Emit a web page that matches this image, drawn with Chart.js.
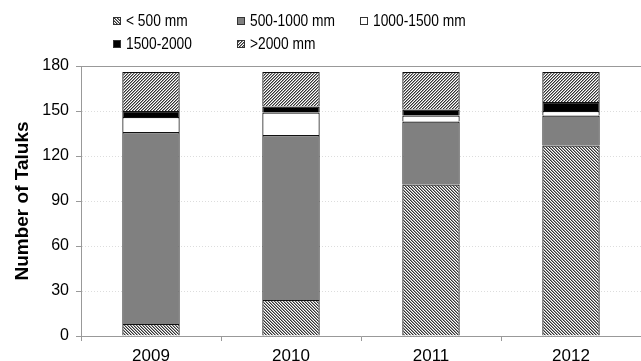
<!DOCTYPE html>
<html lang="en">
<head>
    <meta charset="UTF-8">
    <title>Number of Taluks by rainfall class</title>
    <script src="https://cdn.jsdelivr.net/npm/chart.js"></script>
    <style>
        body { margin: 0; background: #fff; }
        #wrap { position: relative; width: 641px; height: 361px; }
        #legend { position: absolute; left: 0; top: 0; width: 641px; height: 60px;
                  font-family: "Liberation Sans", Arial, sans-serif; font-size: 17px; color: #000; }
        .item { position: absolute; display: flex; align-items: center; white-space: nowrap; }
        .item canvas { width: 8px; height: 8px; margin-right: 5px; }
        .item span { display: inline-block; transform: scaleX(0.81); transform-origin: left center; }
    </style>
</head>
<body>
<div id="wrap">
    <canvas id="myChart" width="641" height="361"></canvas>
    <div id="legend"></div>
</div>
<script>
const years = ['2009', '2010', '2011', '2012'];
const seriesNames = ['< 500 mm', '500-1000 mm', '1000-1500 mm', '1500-2000', '>2000 mm'];
const below500 = [8, 24, 101, 127];
const r500to1000 = [128, 110, 42, 20];
const r1000to1500 = [10, 15, 4, 3];
const r1500to2000 = [4, 4, 4, 6];
const above2000 = [26, 23, 25, 20];
const yTicks = [0, 30, 60, 90, 120, 150, 180];

// small hatch tiles, 3px period; dir 1 = "\\\\", dir -1 = "////"
function hatch(dir) {
    const c = document.createElement('canvas');
    c.width = 3; c.height = 3;
    const g = c.getContext('2d');
    g.fillStyle = '#fff';
    g.fillRect(0, 0, 3, 3);
    for (let i = 0; i < 3; i++) {
        const x = dir > 0 ? i : 2 - i;
        g.fillStyle = '#333';
        g.fillRect(x, i, 1, 1);
        g.fillStyle = '#999';
        g.fillRect((x + 1) % 3, i, 1, 1);
    }
    return c;
}

const ctx = document.getElementById('myChart').getContext('2d');
const fills = [
    ctx.createPattern(hatch(1), 'repeat'),
    '#808080',
    '#ffffff',
    '#000000',
    ctx.createPattern(hatch(-1), 'repeat')
];
const values = [below500, r500to1000, r1000to1500, r1500to2000, above2000];

const topLine = {
    id: 'topLine',
    afterDraw(chart) {
        const a = chart.chartArea, c = chart.ctx;
        c.save();
        c.strokeStyle = '#999';
        c.lineWidth = 1;
        c.beginPath();
        c.moveTo(a.left, a.top + 0.5);
        c.lineTo(a.right, a.top + 0.5);
        c.stroke();
        c.restore();
    }
};

const chart = new Chart(ctx, {
    type: 'bar',
    data: {
        labels: years,
        datasets: seriesNames.map((name, i) => ({
            label: name,
            data: values[i],
            backgroundColor: fills[i],
            borderColor: '#111',
            borderWidth: 1.2,
            barPercentage: 0.41,
            categoryPercentage: 1
        }))
    },
    options: {
        responsive: false,
        animation: false,
        layout: { padding: { top: 66, right: 0, left: 0, bottom: 0 } },
        plugins: { legend: { display: false }, tooltip: { enabled: false } },
        scales: {
            x: {
                stacked: true,
                grid: { drawOnChartArea: false, tickLength: 5, color: '#999', offset: true },
                border: { color: '#999' },
                ticks: { color: '#000', padding: 5, font: { family: 'Liberation Sans', size: 17 } },
                afterFit(s) { s.height = 25; }
            },
            y: {
                stacked: true,
                min: 0,
                max: 180,
                afterBuildTicks(s) { s.ticks = yTicks.map(v => ({ value: v })); },
                grid: { color: '#ddd', tickColor: '#999', tickLength: 5 },
                border: { color: '#999', dash: [1, 2] },
                ticks: { color: '#000', padding: 7, font: { family: 'Liberation Sans', size: 16 } },
                title: {
                    display: true,
                    text: 'Number of Taluks',
                    color: '#000',
                    padding: { top: 11, bottom: 0 },
                    font: { family: 'Liberation Sans', size: 19, weight: 'bold' }
                },
                afterFit(s) { s.width = 81; }
            }
        }
    },
    plugins: [topLine]
});

// legend laid out like the original: 3 columns, 2 rows
const legendPos = [[113, 21], [237, 21], [360, 21], [113, 44], [237, 44]];
const legend = document.getElementById('legend');
seriesNames.forEach((name, i) => {
    const div = document.createElement('div');
    div.className = 'item';
    div.style.left = legendPos[i][0] + 'px';
    div.style.top = (legendPos[i][1] - 10) + 'px';
    div.style.height = '20px';
    const sw = document.createElement('canvas');
    sw.width = 8; sw.height = 8;
    const g = sw.getContext('2d');
    g.fillStyle = i === 0 || i === 4 ? g.createPattern(hatch(i === 0 ? 1 : -1), 'repeat') : fills[i];
    g.fillRect(0, 0, 8, 8);
    g.strokeStyle = '#333';
    g.strokeRect(0.5, 0.5, 7, 7);
    const label = document.createElement('span');
    label.textContent = name;
    div.appendChild(sw);
    div.appendChild(label);
    legend.appendChild(div);
});
</script>
</body>
</html>
